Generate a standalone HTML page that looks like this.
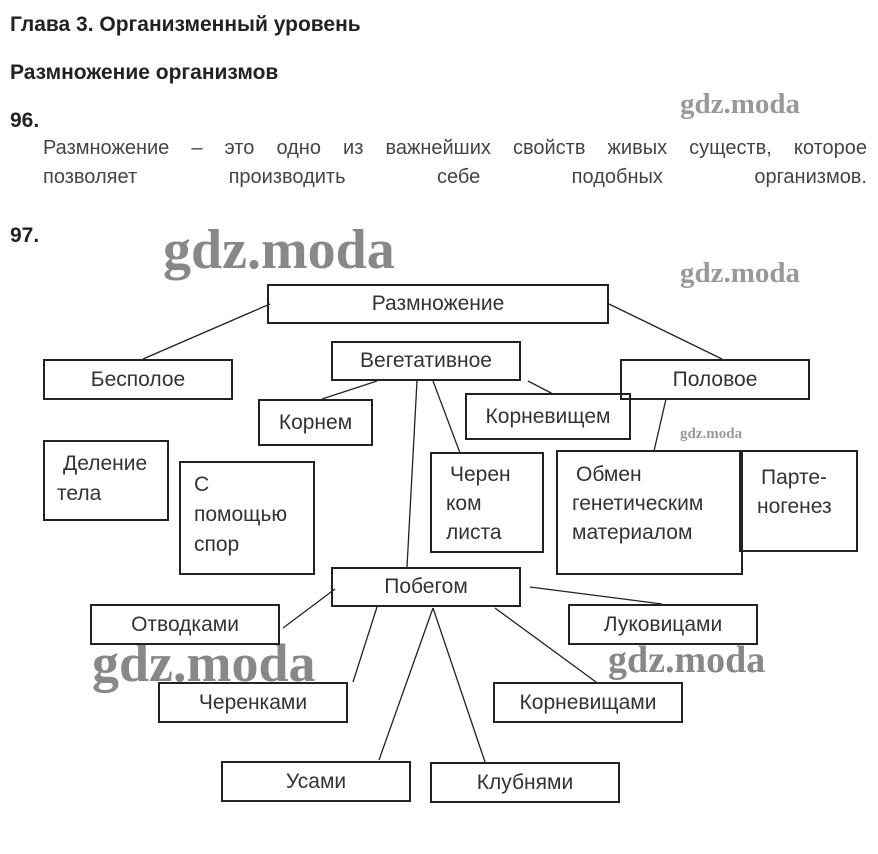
<!DOCTYPE html>
<html><head><meta charset="utf-8"><style>
body{margin:0;background:#fff;width:878px;height:854px;position:relative;overflow:hidden;font-family:"Liberation Sans",sans-serif;color:#333}
.a{position:absolute;white-space:nowrap}
.h{font-weight:bold;font-size:21px;color:#222}
.b{position:absolute;border:2px solid #222;box-sizing:border-box;background:transparent;font-size:21px;color:#333}
.c{display:flex;align-items:center;justify-content:center}
.w{position:absolute;font-family:"Liberation Serif",serif;font-weight:bold;color:#999;white-space:nowrap;letter-spacing:0px}
.p{font-size:20px;color:#444;position:absolute;left:43px;width:824px;text-align:justify;text-align-last:justify;line-height:29px}
</style></head><body>
<div class="a h" style="left:10px;top:13px">Глава 3. Организменный уровень</div>
<div class="a h" style="left:10px;top:61px">Размножение организмов</div>
<div class="a h" style="left:10px;top:109px">96.</div>
<div class="p" style="top:134px">Размножение – это одно из важнейших свойств живых существ, которое</div>
<div class="p" style="top:163px">позволяет производить себе подобных организмов.</div>
<div class="a h" style="left:10px;top:224px">97.</div>
<div class="w" style="left:680px;top:88px;font-size:29px">gdz.moda</div>
<div class="w" style="left:680px;top:257px;font-size:29px">gdz.moda</div>
<div class="w" style="left:680px;top:426px;font-size:15px">gdz.moda</div>
<div class="w" style="left:163px;top:218px;font-size:56px;color:#888">gdz.moda</div>
<div class="w" style="left:92px;top:632px;font-size:54px;color:#888">gdz.moda</div>
<div class="w" style="left:608px;top:638px;font-size:38px;color:#888">gdz.moda</div>
<svg width="878" height="854" style="position:absolute;left:0;top:0" stroke="#222" stroke-width="1.3">
<line x1="270" y1="304" x2="143" y2="359"/>
<line x1="609" y1="304" x2="722" y2="359"/>
<line x1="377" y1="381" x2="322" y2="399"/>
<line x1="528" y1="381" x2="553" y2="394"/>
<line x1="417" y1="381" x2="407" y2="567"/>
<line x1="433" y1="381" x2="460" y2="453"/>
<line x1="666" y1="399" x2="654" y2="451"/>
<line x1="335" y1="589" x2="283" y2="628"/>
<line x1="377" y1="607" x2="353" y2="682"/>
<line x1="433" y1="608" x2="379" y2="760"/>
<line x1="433" y1="608" x2="485" y2="762"/>
<line x1="495" y1="608" x2="596" y2="682"/>
<line x1="530" y1="587" x2="662" y2="604"/>
</svg>
<div class="b c" style="left:267px;top:284px;width:342px;height:40px">Размножение</div>
<div class="b c" style="left:43px;top:359px;width:190px;height:41px">Бесполое</div>
<div class="b c" style="left:331px;top:341px;width:190px;height:40px">Вегетативное</div>
<div class="b c" style="left:620px;top:359px;width:190px;height:41px">Половое</div>
<div class="b c" style="left:258px;top:399px;width:115px;height:47px">Корнем</div>
<div class="b c" style="left:465px;top:393px;width:166px;height:47px">Корневищем</div>
<div class="b" style="left:43px;top:440px;width:126px;height:81px;padding:7px 0 0 18px;line-height:30px">Деление<br><span style="margin-left:-6px">тела</span></div>
<div class="b" style="left:179px;top:461px;width:136px;height:114px;padding:7px 0 0 13px;line-height:30px">С<br>помощью<br>спор</div>
<div class="b" style="left:430px;top:452px;width:114px;height:101px;padding:6px 0 0 18px;line-height:29px">Черен<br><span style="margin-left:-4px">ком</span><br><span style="margin-left:-4px">листа</span></div>
<div class="b" style="left:556px;top:450px;width:187px;height:125px;padding:8px 0 0 18px;line-height:29px">Обмен<br><span style="margin-left:-4px">генетическим</span><br><span style="margin-left:-4px">материалом</span></div>
<div class="b" style="left:739px;top:450px;width:119px;height:102px;padding:11px 0 0 20px;line-height:29px">Парте-<br><span style="margin-left:-4px">ногенез</span></div>
<div class="b c" style="left:331px;top:567px;width:190px;height:40px">Побегом</div>
<div class="b c" style="left:90px;top:604px;width:190px;height:41px">Отводками</div>
<div class="b c" style="left:568px;top:604px;width:190px;height:41px">Луковицами</div>
<div class="b c" style="left:158px;top:682px;width:190px;height:41px">Черенками</div>
<div class="b c" style="left:493px;top:682px;width:190px;height:41px">Корневищами</div>
<div class="b c" style="left:221px;top:761px;width:190px;height:41px">Усами</div>
<div class="b c" style="left:430px;top:762px;width:190px;height:41px">Клубнями</div>
</body></html>
